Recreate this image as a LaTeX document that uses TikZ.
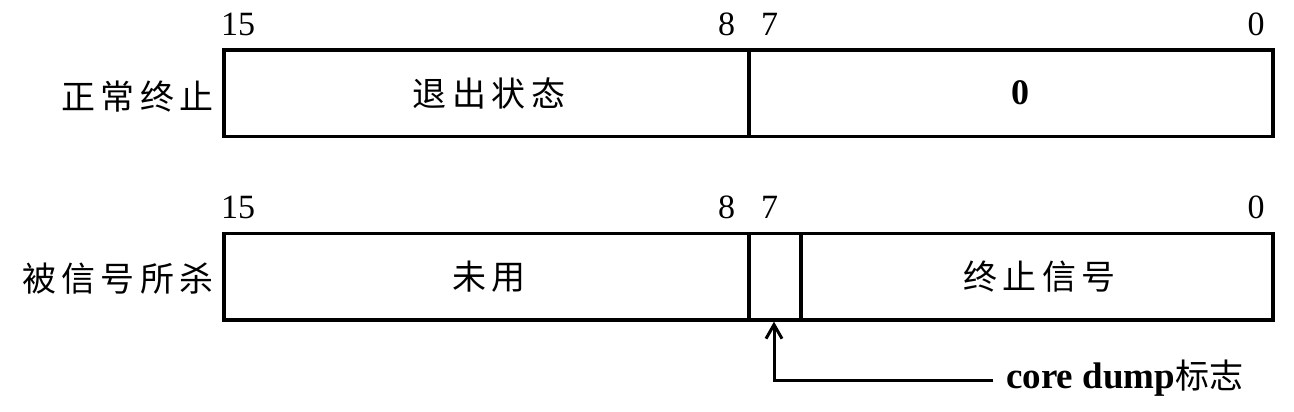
\documentclass[tikz,border=0pt]{standalone}
\usepackage{fontspec}
\setmainfont{Liberation Serif}
\newfontfamily\cjk[LetterSpace=16]{Noto Sans CJK SC}
\newfontfamily\cjktight{Noto Sans CJK SC}
\usetikzlibrary{arrows.meta}
\begin{document}
\begin{tikzpicture}[x=1pt,y=-1pt,
  cell/.style={draw,line width=3.2pt,inner sep=0pt,font=\cjk\fontsize{34}{36}\selectfont},
  bitnum/.style={inner sep=0pt,font=\fontsize{34}{36}\selectfont},
  rowlabel/.style={inner sep=0pt,anchor=east,font=\cjk\fontsize{34}{36}\selectfont},
  conn/.style={line width=3pt,-{Straight Barb[length=14pt,width=16pt,line width=3pt]}}]
\useasboundingbox (0,0) rectangle (1294,412);
% row 1
\node[cell,minimum width=525pt,minimum height=86.5pt] (exit) at (486.5,93.2) {\hspace{5pt}退出状态};
\node[cell,minimum width=524pt,minimum height=86.5pt,font=\bfseries\fontsize{36}{38}\selectfont] (zero) at (1011,93.2) {\hspace{18pt}0};
\node[rowlabel] (l1) at (214,97) {正常终止};
\node[bitnum] (b15a) at (238,24) {15};
\node[bitnum] (b8a) at (726.5,24) {8};
\node[bitnum] (b7a) at (769.5,24) {7};
\node[bitnum] (b0a) at (1256,24) {0};
% row 2
\node[cell,minimum width=525pt,minimum height=86.5pt] (unused) at (486.5,276.8) {\hspace{5pt}未用};
\node[cell,minimum width=52pt,minimum height=86.5pt] (core) at (775,276.8) {};
\node[cell,minimum width=472pt,minimum height=86.5pt] (sig) at (1037,276.8) {\hspace{5pt}终止信号};
\node[rowlabel] (l2) at (214,279) {被信号所杀};
\node[bitnum] (b15b) at (238,207) {15};
\node[bitnum] (b8b) at (726.5,207) {8};
\node[bitnum] (b7b) at (769.5,207) {7};
\node[bitnum] (b0b) at (1256,207) {0};
% core dump flag
\node[anchor=base west,inner sep=0pt,font=\bfseries\fontsize{37}{39}\selectfont] (cd) at (1006,388) {core dump{\cjktight\mdseries\fontsize{34}{36}\selectfont 标志}};
\coordinate (bend) at (774,380);
\draw[conn] (bend -| 993,0) -- (bend) -- (core.south -| bend);
\end{tikzpicture}
\end{document}
